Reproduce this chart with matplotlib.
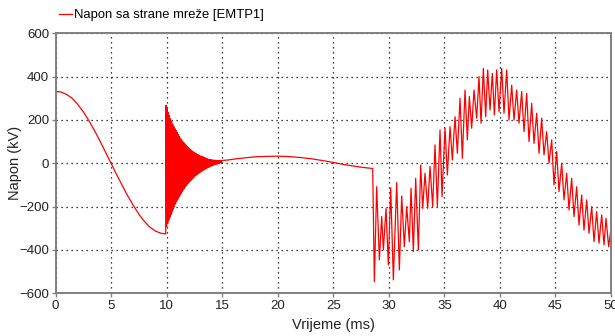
import matplotlib
matplotlib.use("Agg")
import matplotlib.pyplot as plt
import numpy as np

# ---- data (time in ms, voltage in kV) ----
t_pre = [0, 0.5, 1, 1.5, 2, 2.5, 3, 3.5, 4, 4.5, 5, 5.5, 6, 6.5, 7, 7.5,
         8, 8.5, 9, 9.5, 9.92]
v_pre = [332, 329, 318, 300, 272, 238, 197, 152, 103, 52, 0, -52, -102,
         -150, -194, -235, -268, -295, -313, -323, -326]

# damped ringing after the first switching: crests ...
t_ring_hi = [9.95, 10.05, 10.15, 10.25, 10.35, 10.45, 10.55, 10.65, 10.75, 10.85,
             10.95, 11.05, 11.15, 11.25, 11.35, 11.45, 11.55, 11.65, 11.75, 11.85,
             11.95, 12.05, 12.15, 12.25, 12.35, 12.45, 12.55, 12.65, 12.75, 12.85,
             12.95, 13.05, 13.15, 13.25, 13.35, 13.45, 13.55, 13.65, 13.75, 13.85,
             13.95, 14.05, 14.15, 14.25, 14.35, 14.45, 14.55, 14.65, 14.75, 14.85,
             14.95]
v_ring_hi = [268, 252, 235, 220, 205, 192, 180, 170, 160, 151,
             142, 133, 124, 116, 108, 101, 95, 89, 83, 77,
             72, 67, 63, 59, 55, 51, 48, 45, 42, 39,
             37, 34, 32, 30, 28, 26, 22, 21, 19, 18,
             17, 16, 15, 15, 14, 14, 13, 13, 13, 13,
             13]
# ... and troughs
t_ring_lo = [10.0, 10.1, 10.2, 10.3, 10.4, 10.5, 10.6, 10.7, 10.8, 10.9,
             11.0, 11.1, 11.2, 11.3, 11.4, 11.5, 11.6, 11.7, 11.8, 11.9,
             12.0, 12.1, 12.2, 12.3, 12.4, 12.5, 12.6, 12.7, 12.8, 12.9,
             13.0, 13.1, 13.2, 13.3, 13.4, 13.5, 13.6, 13.7, 13.8, 13.9,
             14.0, 14.1, 14.2, 14.3, 14.4, 14.5, 14.6, 14.7, 14.8, 14.9]
v_ring_lo = [-292, -277, -262, -249, -236, -224, -212, -200, -188, -177,
             -167, -157, -148, -139, -131, -123, -116, -109, -102, -95,
             -89, -83, -78, -73, -68, -63, -58, -54, -50, -46,
             -42, -38, -35, -32, -29, -26, -23, -20, -18, -15,
             -13, -11, -9, -7, -5, -4, -2, -1, 1, 3]

# slow recovery between the two switchings
t_slow = [15.5, 16, 17, 18, 19, 20, 21, 22, 23, 24, 25, 26, 27, 27.5, 28, 28.55]
v_slow = [15, 19, 25, 30, 32, 33, 31, 27, 21, 13, 4, -6, -14, -18, -21, -24]

# high-frequency oscillation after the second switching
t_osc = [28.70, 28.91, 29.15, 29.36, 29.51, 29.75, 29.96, 30.17, 30.41, 30.71,
         30.95, 31.16, 31.40, 31.61, 31.85, 32.00, 32.21, 32.42, 32.66, 32.87,
         33.05, 33.26, 33.50, 33.71, 33.95, 34.16, 34.37, 34.61, 34.79, 35.06,
         35.27, 35.51, 35.72, 35.96, 36.17, 36.41, 36.62, 36.86, 37.07, 37.25,
         37.46, 37.67, 37.91, 38.12, 38.30, 38.51, 38.72, 38.90, 39.11, 39.32,
         39.50, 39.71, 39.92, 40.16, 40.37, 40.61, 40.82, 41.06, 41.27, 41.51,
         41.72, 41.96, 42.17, 42.41, 42.62, 42.86, 43.07, 43.31, 43.52, 43.76,
         43.97, 44.21, 44.42, 44.66, 44.87, 45.11, 45.32, 45.56, 45.77, 46.01,
         46.22, 46.46, 46.67, 46.91, 47.12, 47.36, 47.57, 47.81, 48.02, 48.26,
         48.47, 48.71, 48.92, 49.16, 49.37, 49.55, 49.79, 50.0]
v_osc = [-546, -108, -446, -246, -400, -208, -469, -113, -538, -89,
         -492, -151, -385, -200, -362, -115, -408, -69, -400, -8,
         -208, -46, -208, -15, -200, 85, -200, 154, -154, 162,
         -54, 169, 15, 215, 46, 300, 23, 338, 108, 308,
         162, 338, 208, 400, 185, 438, 215, 431, 246, 415,
         223, 431, 238, 438, 231, 431, 200, 361, 200, 338,
         185, 331, 146, 323, 100, 277, 92, 231, 46, 208,
         38, 146, 0, 108, -100, 54, -131, 0, -169, -46,
         -215, -69, -246, -108, -285, -146, -308, -169, -323, -200,
         -362, -223, -369, -238, -377, -254, -385, -300]

series_label = "Napon sa strane mreže [EMTP1]"
x_label = "Vrijeme (ms)"
y_label = "Napon (kV)"
x_ticks = [0, 5, 10, 15, 20, 25, 30, 35, 40, 45, 50]
y_ticks = [-600, -400, -200, 0, 200, 400, 600]

# ---- plot ----
plt.rcParams['font.family'] = ['Liberation Sans', 'DejaVu Sans']
W, H = 615, 336
fig = plt.figure(figsize=(W / 100, H / 100), dpi=100)
ax = fig.add_axes([55.5 / W, 1 - 293.3 / H, (611 - 55.5) / W, (293.3 - 33.3) / H])

# merge crests and troughs of the ringing in time order
t_ring = np.array(t_ring_hi + t_ring_lo)
v_ring = np.array(v_ring_hi + v_ring_lo)
order = np.argsort(t_ring)
t_ring, v_ring = t_ring[order], v_ring[order]

t_all = np.concatenate([t_pre, t_ring, t_slow, t_osc])
v_all = np.concatenate([v_pre, v_ring, v_slow, v_osc])
line, = ax.plot(t_all, v_all, color='#ff0000', lw=0.9, label=series_label)

ax.set_xlim(0, 50)
ax.set_ylim(-600, 600)
ax.set_xticks(x_ticks)
ax.set_yticks(y_ticks)
ax.grid(True, color='black', linestyle=(0, (1, 3)), linewidth=0.9)
for s in ax.spines.values():
    s.set_color('#808080')
    s.set_linewidth(1.4)
ax.tick_params(direction='out', length=3, width=1, color='#808080',
               labelsize=9.5, labelcolor='#222222', pad=1.5)
ax.set_xlabel(x_label, fontsize=10.5, color='#222222')
ax.set_ylabel(y_label, fontsize=10.5, color='#222222')
ax.xaxis.set_label_coords(0.5, (293.3 - 325) / 260, transform=ax.transAxes)
ax.yaxis.set_label_coords((15 - 55.5) / 555.5, 0.5, transform=ax.transAxes)
ax.xaxis.label.set_va('center')
ax.yaxis.label.set_va('center')

fig.legend(handles=[line], loc='upper left', bbox_to_anchor=(54 / W, 1 - 4 / H),
           frameon=False, handlelength=0.95, handletextpad=0.2, fontsize=9.4,
           borderaxespad=0)

fig.savefig("out.png", dpi=100, facecolor='white')
